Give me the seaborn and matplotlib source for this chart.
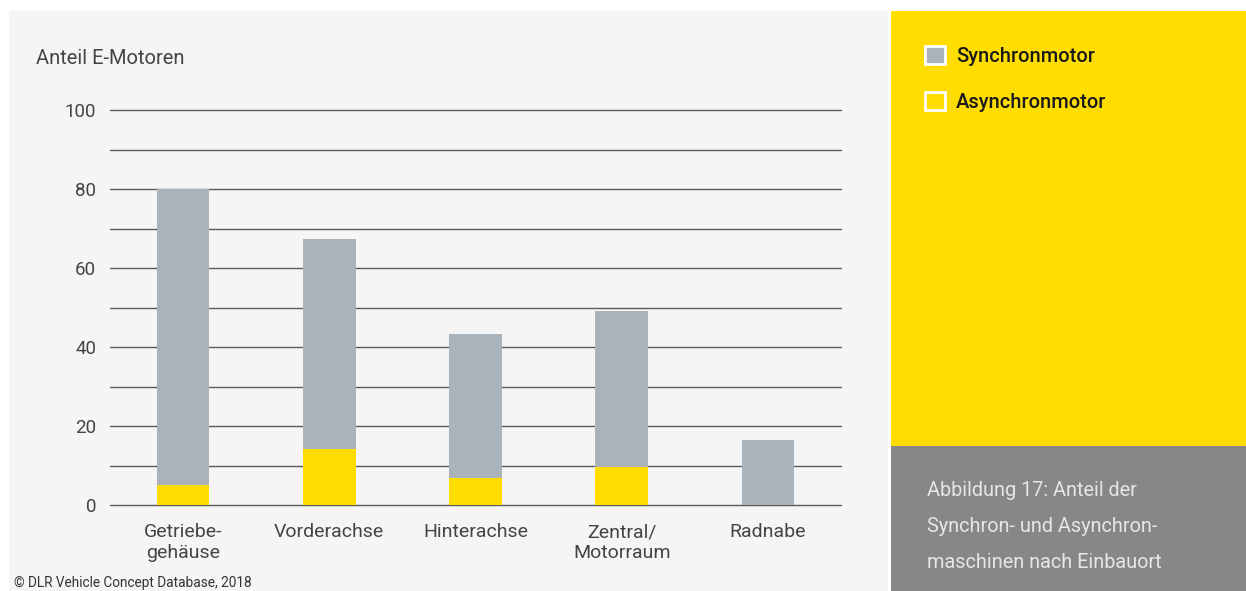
import matplotlib
matplotlib.use("Agg")
import matplotlib.pyplot as plt
import seaborn as sns
import pandas as pd
import numpy as np
from matplotlib.patches import Rectangle, Patch

# Einbauort der E-Motoren und Anteile je Motortyp
categories = ["Getriebe-\ngehäuse", "Vorderachse", "Hinterachse", "Zentral/\nMotorraum", "Radnabe"]
asynchron = [5.0, 14.2, 6.9, 9.7, 0.0]
synchron = [75.0, 53.1, 36.4, 39.4, 16.5]
y_ticks = [0, 20, 40, 60, 80, 100]

GRAY_BAR = "#a9b3b9"
YELLOW = "#ffdd00"
PANEL = "#f5f5f5"
CAPTION_BG = "#878787"
TEXT = "#444444"

sns.set_theme(style="white")
plt.rcParams["font.family"] = ["Roboto", "DejaVu Sans"]

W, H = 1246, 591
fig = plt.figure(figsize=(W / 100, H / 100), dpi=100, facecolor="white")

def fx(px):
    return px / W

def fy(py):
    return 1 - py / H

# Hintergrundflächen
fig.patches.append(Rectangle((fx(9), fy(591)), fx(879), fy(11) - fy(591),
                             transform=fig.transFigure, facecolor=PANEL, edgecolor="none", zorder=-10))
fig.patches.append(Rectangle((fx(891), fy(446)), fx(355), fy(11) - fy(446),
                             transform=fig.transFigure, facecolor=YELLOW, edgecolor="none", zorder=-10))
fig.patches.append(Rectangle((fx(891), fy(591)), fx(355), fy(446) - fy(591),
                             transform=fig.transFigure, facecolor=CAPTION_BG, edgecolor="none", zorder=-10))

ax = fig.add_axes([fx(110), fy(505), fx(841) - fx(110), fy(110) - fy(505)])
ax.set_facecolor("none")

df = pd.DataFrame({
    "ort": categories,
    "asynchron": asynchron,
    "gesamt": np.array(asynchron) + np.array(synchron),
})

sns.barplot(data=df, x="ort", y="gesamt", color=GRAY_BAR, width=0.36,
            saturation=1, ax=ax, zorder=3, edgecolor="none", linewidth=0)
sns.barplot(data=df, x="ort", y="asynchron", color=YELLOW, width=0.36,
            saturation=1, ax=ax, zorder=4, edgecolor="none", linewidth=0)

ax.set_ylim(0, 100)
ax.set_xlim(-0.5, len(categories) - 0.5)

for v in range(0, 101, 10):
    ax.axhline(v, color="#5a5a5a", lw=1.0, zorder=1, clip_on=False)

for s in ax.spines.values():
    s.set_visible(False)

ax.set_yticks(y_ticks)
ax.set_yticklabels([str(t) for t in y_ticks])
ax.tick_params(axis="y", length=0, pad=10, labelsize=13.5, labelcolor=TEXT)

ax.set_xticks(range(len(categories)))
ax.set_xticklabels(categories, linespacing=1.2)
ax.tick_params(axis="x", which="major", length=0, pad=13, labelsize=14, labelcolor=TEXT)
ax.set_xticks(np.arange(0.5, len(categories) - 1, 1.0), minor=True)
ax.tick_params(axis="x", which="minor", length=15, width=1, color="#5a5a5a")

ax.set_xlabel("")
ax.set_ylabel("")

fig.text(fx(36), fy(58), "Anteil E-Motoren", fontsize=14.5, color=TEXT, va="center", ha="left")

# Legende im gelben Feld
handles = [
    Patch(facecolor=GRAY_BAR, edgecolor="white", linewidth=2, label="Synchronmotor"),
    Patch(facecolor=YELLOW, edgecolor="white", linewidth=2, label="Asynchronmotor"),
]
leg = fig.legend(handles=handles, loc="upper left", bbox_to_anchor=(fx(925), fy(46)),
                 frameon=False, fontsize=14.5, handlelength=0.98, handleheight=0.98,
                 handletextpad=0.55, labelspacing=1.32, borderaxespad=0, borderpad=0)
for t in leg.get_texts():
    t.set_color("#1a1a1a")
    t.set_fontweight("medium")

# Bildunterschrift
fig.text(fx(927), fy(481), "Abbildung 17: Anteil der\nSynchron- und Asynchron-\nmaschinen nach Einbauort",
         fontsize=14.3, color="#e6e6e6", va="top", ha="left", linespacing=2.12)

fig.text(fx(14), fy(583), "© DLR Vehicle Concept Database, 2018", fontsize=9.8,
         color="#333333", va="center", ha="left")

fig.savefig("out.png", dpi=100, facecolor="white")
